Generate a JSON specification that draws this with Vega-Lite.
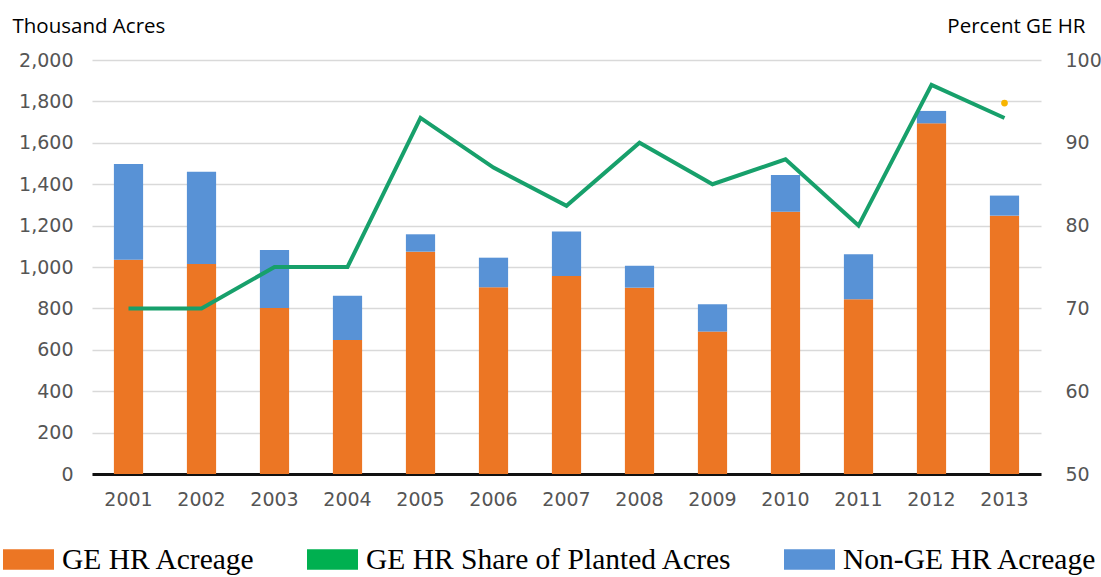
{
  "$schema": "https://vega.github.io/schema/vega-lite/v6.json",
  "width": 949,
  "height": 414,
  "autosize": {"type": "none"},
  "padding": {"left": 92, "top": 60, "right": 60, "bottom": 103},
  "background": "white",
  "config": {
    "view": {"stroke": null},
    "axis": {"labelFont": "DejaVu Sans", "labelFontSize": 19, "labelColor": "#555555", "ticks": false, "domain": false, "grid": false},
    "legend": {"labelFont": "Liberation Serif", "labelFontSize": 29.5, "labelColor": "#000000"}
  },
  "datasets": {
    "bars": [
      {"year": "2001", "series": "GE HR Acreage", "value": 1035},
      {"year": "2001", "series": "Non-GE HR Acreage", "value": 463},
      {"year": "2002", "series": "GE HR Acreage", "value": 1014},
      {"year": "2002", "series": "Non-GE HR Acreage", "value": 446},
      {"year": "2003", "series": "GE HR Acreage", "value": 802},
      {"year": "2003", "series": "Non-GE HR Acreage", "value": 280},
      {"year": "2004", "series": "GE HR Acreage", "value": 647},
      {"year": "2004", "series": "Non-GE HR Acreage", "value": 214},
      {"year": "2005", "series": "GE HR Acreage", "value": 1074},
      {"year": "2005", "series": "Non-GE HR Acreage", "value": 84},
      {"year": "2006", "series": "GE HR Acreage", "value": 902},
      {"year": "2006", "series": "Non-GE HR Acreage", "value": 143},
      {"year": "2007", "series": "GE HR Acreage", "value": 956},
      {"year": "2007", "series": "Non-GE HR Acreage", "value": 215},
      {"year": "2008", "series": "GE HR Acreage", "value": 900},
      {"year": "2008", "series": "Non-GE HR Acreage", "value": 106},
      {"year": "2009", "series": "GE HR Acreage", "value": 688},
      {"year": "2009", "series": "Non-GE HR Acreage", "value": 132},
      {"year": "2010", "series": "GE HR Acreage", "value": 1267},
      {"year": "2010", "series": "Non-GE HR Acreage", "value": 177},
      {"year": "2011", "series": "GE HR Acreage", "value": 844},
      {"year": "2011", "series": "Non-GE HR Acreage", "value": 217},
      {"year": "2012", "series": "GE HR Acreage", "value": 1694},
      {"year": "2012", "series": "Non-GE HR Acreage", "value": 60},
      {"year": "2013", "series": "GE HR Acreage", "value": 1248},
      {"year": "2013", "series": "Non-GE HR Acreage", "value": 97}
    ],
    "share": [
      {"year": "2001", "pct": 70},
      {"year": "2002", "pct": 70},
      {"year": "2003", "pct": 75},
      {"year": "2004", "pct": 75},
      {"year": "2005", "pct": 93},
      {"year": "2006", "pct": 87},
      {"year": "2007", "pct": 82.4},
      {"year": "2008", "pct": 90},
      {"year": "2009", "pct": 85},
      {"year": "2010", "pct": 88},
      {"year": "2011", "pct": 80},
      {"year": "2012", "pct": 97},
      {"year": "2013", "pct": 93}
    ],
    "dot": [
      {"year": "2013", "pct": 94.8}
    ]
  },
  "encoding": {
    "x": {
      "field": "year", "type": "ordinal",
      "scale": {"paddingInner": 0.6, "paddingOuter": 0.3},
      "axis": {"title": null, "labelAngle": 0, "labelPadding": 16, "domain": true, "domainColor": "#111111", "domainWidth": 3}
    }
  },
  "layer": [
    {
      "layer": [
        {
          "data": {"name": "bars"},
          "mark": {"type": "bar"},
          "encoding": {
            "y": {
              "field": "value", "type": "quantitative", "aggregate": "sum", "stack": "zero",
              "scale": {"domain": [0, 2000], "nice": false},
              "axis": {
                "title": "Thousand Acres", "titleAngle": 0, "titleFont": "Open Sans", "titleFontSize": 20.5, "titleFontWeight": "normal", "titleColor": "#000000",
                "titleAlign": "left", "titleBaseline": "alphabetic", "titleX": -80, "titleY": -28,
                "values": [0, 200, 400, 600, 800, 1000, 1200, 1400, 1600, 1800, 2000], "format": ",d",
                "labelPadding": 19, "grid": true, "gridColor": "#d9d9d9", "gridWidth": 1.5
              }
            },
            "color": {
              "field": "series", "type": "nominal",
              "scale": {"domain": ["GE HR Acreage", "GE HR Share of Planted Acres", "Non-GE HR Acreage"], "range": ["#ec7624", "#00b050", "#5892d6"]},
              "legend": {
                "title": null, "orient": "none", "direction": "horizontal", "legendX": -89, "legendY": 474,
                "symbolType": "M-1,-0.4L1,-0.4L1,0.4L-1,0.4Z", "symbolSize": 2600, "symbolStrokeWidth": 0, "symbolOpacity": 1,
                "labelOffset": 8, "columnPadding": 51, "labelLimit": 450
              }
            },
            "order": {"field": "series", "sort": "ascending"}
          }
        }
      ]
    },
    {
      "layer": [
        {
          "data": {"name": "share"},
          "mark": {"type": "line", "color": "#17a06b", "strokeWidth": 4},
          "encoding": {
            "y": {
              "field": "pct", "type": "quantitative",
              "scale": {"domain": [50, 100], "nice": false},
              "axis": {
                "orient": "right", "title": "Percent GE HR", "titleAngle": 0, "titleFont": "Open Sans", "titleFontSize": 20.5, "titleFontWeight": "normal", "titleColor": "#000000",
                "titleAlign": "right", "titleBaseline": "alphabetic", "titleX": 44, "titleY": -28,
                "values": [50, 60, 70, 80, 90, 100], "labelPadding": 24, "labelAlign": "left"
              }
            }
          }
        },
        {
          "data": {"name": "dot"},
          "mark": {"type": "point", "filled": true, "color": "#f7b500", "size": 45, "opacity": 1},
          "encoding": {
            "y": {"field": "pct", "type": "quantitative"}
          }
        }
      ]
    }
  ],
  "resolve": {"scale": {"y": "independent"}}
}
